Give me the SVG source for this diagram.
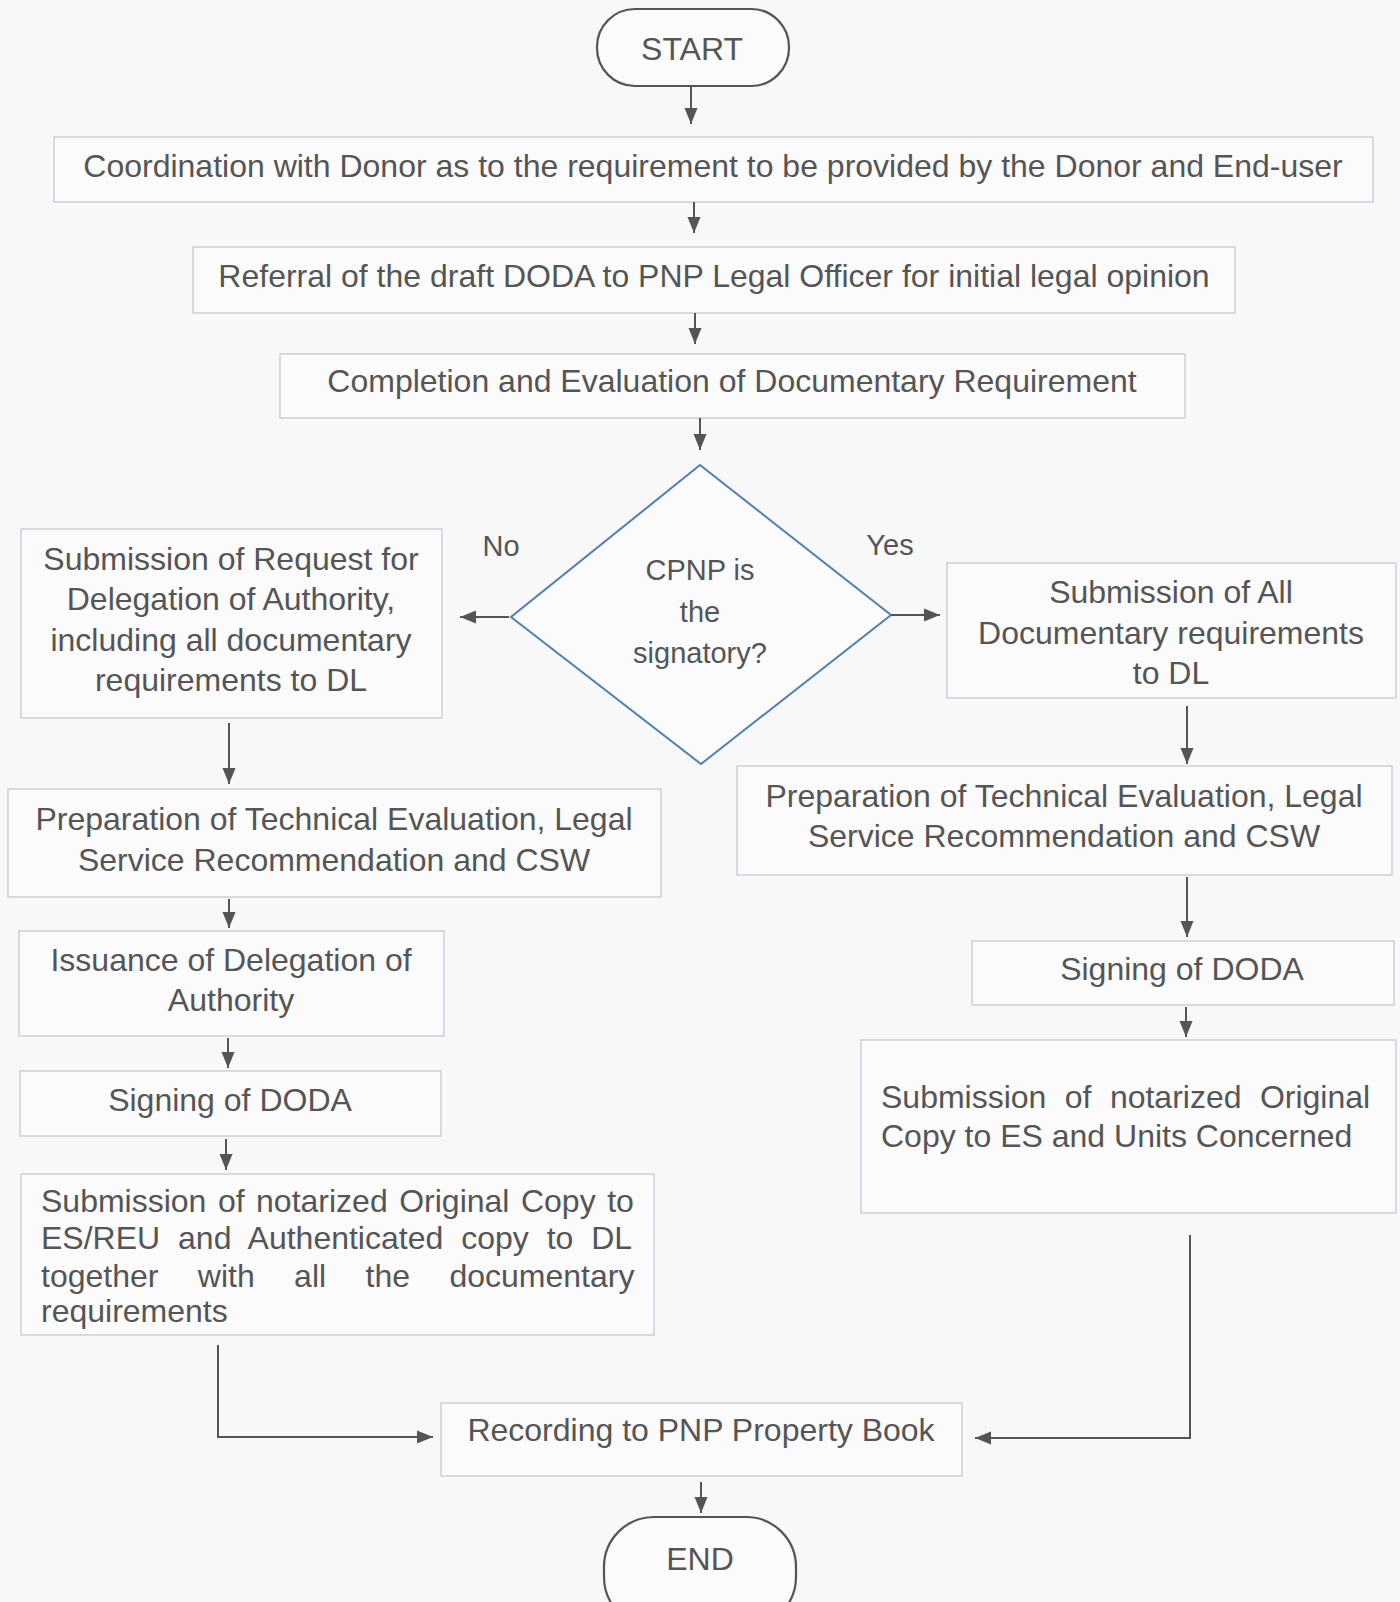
<svg xmlns="http://www.w3.org/2000/svg" width="1400" height="1602" viewBox="0 0 1400 1602">
<style>
  .bg { fill: #f8f8f9; }
  .box { fill: #fbfbfc; stroke: #c2c6d0; stroke-width: 1.2; }
  .term { fill: #fbfbfc; stroke: #555; stroke-width: 2.2; }
  .dia { fill: #fbfbfc; stroke: #4f7fb3; stroke-width: 2; }
  text { font-family: "Liberation Sans", Arial, sans-serif; fill: #555; font-size: 32px; }
  .c { text-anchor: middle; }
  .sm { font-size: 29px; }
  .conn { fill: none; stroke: #555; stroke-width: 2; }
</style>
<defs>
  <marker id="ah" markerUnits="userSpaceOnUse" markerWidth="17" markerHeight="14" refX="16" refY="7" orient="auto">
    <path d="M0,0.5 L16,7 L0,13.5 Z" fill="#555"/>
  </marker>
</defs>
<rect class="bg" x="0" y="0" width="1400" height="1602"/>

<g id="start">
  <rect class="term" x="597" y="9" width="192" height="77" rx="38" ry="38"/>
  <text class="c" x="692" y="60">START</text>
</g>
<g id="coord">
  <rect class="box" x="54" y="137" width="1319" height="65"/>
  <text class="c" x="713" y="177">Coordination with Donor as to the requirement to be provided by the Donor and End-user</text>
</g>
<g id="referral">
  <rect class="box" x="193" y="247" width="1042" height="66"/>
  <text class="c" x="714" y="287">Referral of the draft DODA to PNP Legal Officer for initial legal opinion</text>
</g>
<g id="completion">
  <rect class="box" x="280" y="354" width="905" height="64"/>
  <text class="c" x="732" y="392">Completion and Evaluation of Documentary Requirement</text>
</g>
<g id="decision">
  <polygon class="dia" points="700,465 891,615 701,764 511,617"/>
  <text class="c sm" x="700" y="580">CPNP is</text>
  <text class="c sm" x="700" y="622">the</text>
  <text class="c sm" x="700" y="663">signatory?</text>
</g>
<g id="lbl-no"><text class="c sm" x="501" y="556">No</text></g>
<g id="lbl-yes"><text class="c sm" x="890" y="555">Yes</text></g>

<g id="left1">
  <rect class="box" x="21" y="529" width="421" height="189"/>
  <text class="c" x="231" y="570">Submission of Request for</text>
  <text class="c" x="231" y="610">Delegation of Authority,</text>
  <text class="c" x="231" y="651">including all documentary</text>
  <text class="c" x="231" y="691">requirements to DL</text>
</g>
<g id="right1">
  <rect class="box" x="947" y="563" width="449" height="135"/>
  <text class="c" x="1171" y="603">Submission of All</text>
  <text class="c" x="1171" y="644">Documentary requirements</text>
  <text class="c" x="1171" y="684">to DL</text>
</g>
<g id="left2">
  <rect class="box" x="8" y="789" width="653" height="108"/>
  <text class="c" x="334" y="830">Preparation of Technical Evaluation, Legal</text>
  <text class="c" x="334" y="871">Service Recommendation and CSW</text>
</g>
<g id="right2">
  <rect class="box" x="737" y="766" width="655" height="109"/>
  <text class="c" x="1064" y="807">Preparation of Technical Evaluation, Legal</text>
  <text class="c" x="1064" y="847">Service Recommendation and CSW</text>
</g>
<g id="left3">
  <rect class="box" x="19" y="931" width="425" height="105"/>
  <text class="c" x="231" y="971">Issuance of Delegation of</text>
  <text class="c" x="231" y="1011">Authority</text>
</g>
<g id="right3">
  <rect class="box" x="972" y="941" width="422" height="64"/>
  <text class="c" x="1182" y="980">Signing of DODA</text>
</g>
<g id="left4">
  <rect class="box" x="20" y="1071" width="421" height="65"/>
  <text class="c" x="230" y="1111">Signing of DODA</text>
</g>
<g id="right4">
  <rect class="box" x="861" y="1040" width="535" height="173"/>
  <text x="881" y="1108" word-spacing="9.5">Submission of notarized Original</text>
  <text x="881" y="1147">Copy to ES and Units Concerned</text>
</g>
<g id="left5">
  <rect class="box" x="21" y="1174" width="633" height="161"/>
  <text x="41" y="1212" word-spacing="2.6">Submission of notarized Original Copy to</text>
  <text x="41" y="1249" word-spacing="9">ES/REU and Authenticated copy to DL</text>
  <text x="41" y="1287" word-spacing="30.5">together with all the documentary</text>
  <text x="41" y="1322">requirements</text>
</g>
<g id="recording">
  <rect class="box" x="441" y="1403" width="521" height="73"/>
  <text class="c" x="701" y="1441">Recording to PNP Property Book</text>
</g>
<g id="end">
  <rect class="term" x="604" y="1517" width="192" height="110" rx="50" ry="50"/>
  <text class="c" x="700" y="1570">END</text>
</g>

<g id="connectors">
  <path class="conn" d="M691,86 V124" marker-end="url(#ah)"/>
  <path class="conn" d="M694,202 V233" marker-end="url(#ah)"/>
  <path class="conn" d="M695,313 V344" marker-end="url(#ah)"/>
  <path class="conn" d="M700,418 V450" marker-end="url(#ah)"/>
  <path class="conn" d="M509,617 H460" marker-end="url(#ah)"/>
  <path class="conn" d="M891,615 H940" marker-end="url(#ah)"/>
  <path class="conn" d="M229,723 V784" marker-end="url(#ah)"/>
  <path class="conn" d="M1187,706 V764" marker-end="url(#ah)"/>
  <path class="conn" d="M229,899 V928" marker-end="url(#ah)"/>
  <path class="conn" d="M1187,877 V937" marker-end="url(#ah)"/>
  <path class="conn" d="M228,1038 V1068" marker-end="url(#ah)"/>
  <path class="conn" d="M1186,1007 V1037" marker-end="url(#ah)"/>
  <path class="conn" d="M226,1139 V1170" marker-end="url(#ah)"/>
  <path class="conn" d="M218,1345 V1437 H433" marker-end="url(#ah)"/>
  <path class="conn" d="M1190,1235 V1438 H975" marker-end="url(#ah)"/>
  <path class="conn" d="M701,1482 V1513" marker-end="url(#ah)"/>
</g>
</svg>
